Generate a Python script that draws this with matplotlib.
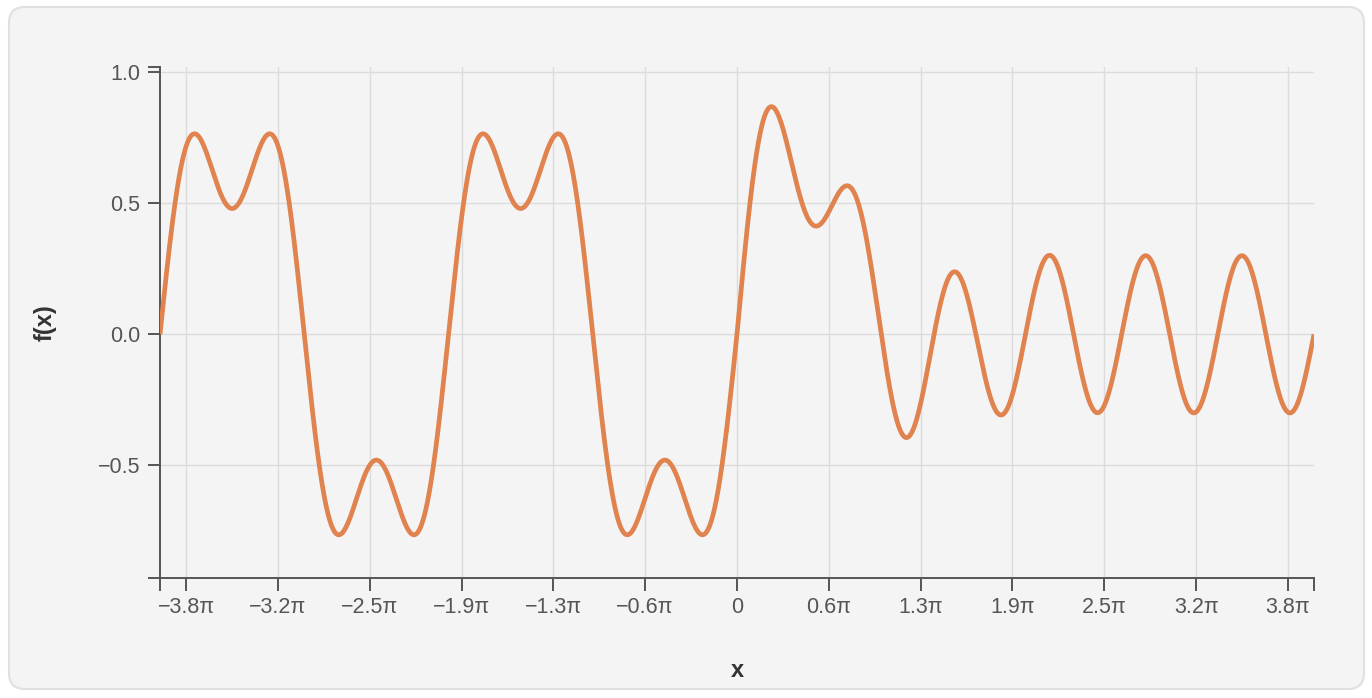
import numpy as np
import matplotlib
matplotlib.use("Agg")
import matplotlib.pyplot as plt
from matplotlib.patches import FancyBboxPatch

plt.rcParams['font.family'] = ['Liberation Sans', 'DejaVu Sans']

# f(x): square-ish wave on the left, damped sine plus a 3x ripple on the right
left_amp = [0.78, 0.30]      # sin(x), sin(3x)
right_amp = [1.00, 0.30]     # exp(-x^2/8) sin(x), sin(3x)
right_width = 8.0
x_ticks = [-12, -10, -8, -6, -4, -2, 0, 2, 4, 6, 8, 10, 12]
y_ticks = [-0.5, 0.0, 0.5, 1.0]
x_range = [-4 * np.pi, 4 * np.pi]
y_range = [-0.93, 1.02]

x = np.linspace(x_range[0], x_range[1], 4000)
y = np.where(
    x < 0,
    left_amp[0] * np.sin(x) + left_amp[1] * np.sin(3 * x),
    right_amp[0] * np.exp(-x ** 2 / right_width) * np.sin(x) + right_amp[1] * np.sin(3 * x),
)

fig = plt.figure(figsize=(13.72, 6.98), dpi=100)
fig.patch.set_facecolor('white')

# card background
card = FancyBboxPatch((9, 9), 1355, 682,
                      boxstyle="round,pad=0,rounding_size=16",
                      transform=None, facecolor='#f4f4f4',
                      edgecolor='#e0e0e0', linewidth=1.5, zorder=-10)
fig.add_artist(card)

ax = fig.add_axes([160 / 1372, 1 - 578 / 698, 1154 / 1372, 511 / 698])
ax.set_facecolor('none')
ax.plot(x, y, color='#e0834f', linewidth=3.4, solid_capstyle='butt', zorder=3)

ax.set_xlim(x_range)
ax.set_ylim(y_range)


def pi_label(v):
    if v == 0:
        return "0"
    return f"{v / np.pi:.1f}π".replace("-", "−")


ax.set_xticks(x_ticks)
ax.set_xticklabels([pi_label(v) for v in x_ticks])
ax.set_yticks(y_ticks)
ax.set_yticklabels([f"{v:.1f}".replace("-", "−") for v in y_ticks])

# outer ticks at the axis ends
ax.set_xticks(x_range, minor=True)
ax.set_yticks(y_range, minor=True)

for spine in ['top', 'right']:
    ax.spines[spine].set_visible(False)
for spine in ['left', 'bottom']:
    ax.spines[spine].set_color('#555555')
    ax.spines[spine].set_linewidth(1.4)

ax.tick_params(which='both', length=9, width=1.4, color='#555555',
               labelsize=15.5, labelcolor='#555555', pad=5)
ax.grid(True, which='major', color='#dcdcdc', linewidth=1.0, zorder=0)
ax.set_axisbelow(True)

ax.set_xlabel('x', fontsize=17, fontweight='bold', color='#333333', labelpad=29)
ax.set_ylabel('f(x)', fontsize=17, fontweight='bold', color='#333333', labelpad=30)

fig.savefig('out.png', dpi=100, facecolor='white')
